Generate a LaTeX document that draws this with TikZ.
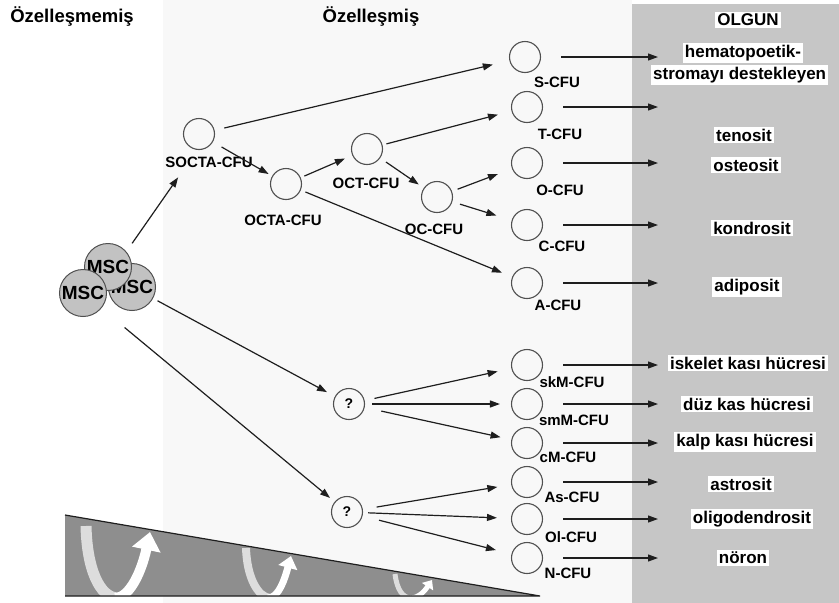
\documentclass[tikz,border=0pt]{standalone}
\usepackage{fontspec}
\setmainfont{Liberation Sans}
\usetikzlibrary{arrows.meta}
\definecolor{Olgun}{HTML}{C6C6C6}
\definecolor{Pale}{HTML}{F8F8F8}
\definecolor{Wedge}{HTML}{8E8E8E}
\definecolor{Ink}{HTML}{1E1E1E}
\definecolor{Rim}{HTML}{505050}
\definecolor{Cell}{HTML}{C2C2C2}

\tikzset{
  cfu/.style={circle,draw=Rim,line width=1.1pt,minimum size=31pt,inner sep=0pt},
  unk/.style={cfu,font=\fontsize{14}{16}\selectfont\bfseries},
  cfutxt/.style={inner sep=0pt,font=\fontsize{15}{17}\selectfont\bfseries},
  mature/.style={fill=white,inner sep=2pt,font=\fontsize{17}{19}\selectfont\bfseries},
  colhead/.style={inner sep=0pt,font=\fontsize{18.5}{21}\selectfont\bfseries},
  msc/.style={circle,draw=Rim,fill=Cell,line width=1pt,minimum size=47pt,inner sep=0pt,
    font=\fontsize{19}{21}\selectfont\bfseries},
  arr/.style={draw=Ink,line width=1.2pt,-{Triangle[length=10pt,width=7pt]},
    shorten <=10pt,shorten >=13pt},
  ripearr/.style={draw=Ink,line width=1.1pt,-{Triangle[length=10pt,width=7pt]}},
}

\begin{document}
\begin{tikzpicture}[x=1pt,y=-1pt]
  \useasboundingbox (0,0) rectangle (839,603);
  % backgrounds
  \fill[Pale] (163,0) rectangle (632,603);
  \fill[Olgun] (632,4) rectangle (839,603);

  % potency wedge
  \fill[Wedge] (65,515) -- (540,596) -- (65,596) -- cycle;
  \begin{scope}
    \clip (65,515) -- (540,596) -- (65,596) -- cycle;
    \draw[white,opacity=0.7,line width=11pt] (86,526) .. controls (87,570) and (100,597) .. (117,598);
    \draw[white,line width=10pt,-{Triangle[length=18pt,width=28pt]}] (115,598) .. controls (130,598) and (142,570) .. (150,532);
    \draw[white,opacity=0.7,line width=8pt] (246,548) .. controls (247,578) and (258,597) .. (270,598);
    \draw[white,line width=7pt,-{Triangle[length=12pt,width=19pt]}] (268,598) .. controls (279,598) and (285,578) .. (291,556);
    \draw[white,opacity=0.7,line width=5pt] (395,574) .. controls (397,590) and (403,598) .. (411,598);
    \draw[white,line width=5pt,-{Triangle[length=8pt,width=13pt]}] (410,598) .. controls (420,598) and (426,589) .. (432,580);
  \end{scope}
  \draw[Ink,line width=1.2pt] (65,515) -- (540,596) -- (65,596);

  % headings
  \node[colhead] (undiff) at (72,17) {Özelleşmemiş};
  \node[colhead] (diff) at (371,17) {Özelleşmiş};
  \node[mature] (olgun) at (748,20) {OLGUN};

  % stem cells
  \node[msc] (mscR) at (132,287) {MSC};
  \node[msc] (mscT) at (108,267) {MSC};
  \node[msc] (mscL) at (83,293) {MSC};

  % progenitors
  \node[cfu] (socta) at (199,134) {};
  \node[cfu] (octa) at (286,184) {};
  \node[cfu] (oct) at (367,149) {};
  \node[cfu] (oc) at (437,197) {};
  \node[cfu] (s) at (525,57) {};
  \node[cfu] (t) at (527,107) {};
  \node[cfu] (o) at (527,163) {};
  \node[cfu] (c) at (527,225) {};
  \node[cfu] (a) at (527,283) {};
  \node[unk] (q1) at (349,404) {?};
  \node[unk] (q2) at (347,512) {?};
  \node[cfu] (skm) at (527,365) {};
  \node[cfu] (smm) at (527,404) {};
  \node[cfu] (cm) at (527,443) {};
  \node[cfu] (as) at (527,482) {};
  \node[cfu] (ol) at (527,519) {};
  \node[cfu] (n) at (527,558) {};

  \node[cfutxt] (soctal) at (209,162) {SOCTA-CFU};
  \node[cfutxt] (octal) at (283,220) {OCTA-CFU};
  \node[cfutxt] (octl) at (366,183) {OCT-CFU};
  \node[cfutxt] (ocl) at (434,229) {OC-CFU};
  \node[cfutxt] (sl) at (557,82) {S-CFU};
  \node[cfutxt] (tl) at (560,134) {T-CFU};
  \node[cfutxt] (ol1) at (560,190) {O-CFU};
  \node[cfutxt] (cl) at (562,246) {C-CFU};
  \node[cfutxt] (al) at (558,305) {A-CFU};
  \node[cfutxt] (skml) at (572,382) {skM-CFU};
  \node[cfutxt] (smml) at (574,420) {smM-CFU};
  \node[cfutxt] (cml) at (568,457) {cM-CFU};
  \node[cfutxt] (asl) at (572,497) {As-CFU};
  \node[cfutxt] (oll) at (571,537) {Ol-CFU};
  \node[cfutxt] (nl) at (568,573) {N-CFU};

  % mature cells
  \node[mature] (hema) at (743,53) {hematopoetik-};
  \node[mature,anchor=west] (stroma) at (651,75) {stromayı destekleyen};
  \node[mature] (teno) at (744,135) {tenosit};
  \node[mature] (osteo) at (746,165) {osteosit};
  \node[mature] (kondro) at (752,228) {kondrosit};
  \node[mature] (adipo) at (747,287) {adiposit};
  \node[mature] (iskelet) at (748,363) {iskelet kası hücresi};
  \node[mature] (duz) at (747,404) {düz kas hücresi};
  \node[mature] (kalp) at (745,442) {kalp kası hücresi};
  \node[mature] (astro) at (741,484) {astrosit};
  \node[mature] (oligo) at (752,519) {oligodendrosit};
  \node[mature] (noron) at (743,558) {nöron};

  % lineage arrows
  \draw[arr,shorten >=12pt] (mscT.40) -- ([xshift=-24pt]soctal.south);
  \draw[arr,shorten <=5pt,shorten >=9pt] (mscR) -- (q1);
  \draw[arr,shorten <=30pt,shorten >=6pt] (mscL) -- (q2);
  \draw[arr,shorten >=17pt] (socta) -- (s);
  \draw[arr,shorten >=4pt] (socta) -- (octa);
  \draw[arr,shorten <=4pt,shorten >=8pt] (octa) -- (oct);
  \draw[arr,shorten <=5pt,shorten >=11pt] (octa) -- (a);
  \draw[arr,shorten <=4pt,shorten >=14pt] (oct) -- (t);
  \draw[arr,shorten <=7pt,shorten >=6pt] (oct) -- (oc);
  \draw[arr,shorten <=6pt,shorten >=15pt] (oc) -- (o);
  \draw[arr,shorten <=8pt,shorten >=16pt] (oc) -- (c);
  \draw[arr,shorten >=14pt] (q1) -- (skm);
  \draw[arr,shorten <=7pt,shorten >=11pt] (q1) -- (smm);
  \draw[arr,shorten <=17pt,shorten >=11pt] (q1) -- (cm);
  \draw[arr,shorten <=14pt,shorten >=14pt] (q2) -- (as);
  \draw[arr,shorten <=5pt,shorten >=14pt] (q2) -- (ol);
  \draw[arr,shorten <=17pt,shorten >=16pt] (q2) -- (n);

  % maturation arrows
  \coordinate (tip) at (658,0);
  \draw[ripearr] ([xshift=20pt]s.east) -- (s -| tip);
  \draw[ripearr] ([xshift=20pt]t.east) -- (t -| tip);
  \draw[ripearr] ([xshift=20pt]o.east) -- (o -| tip);
  \draw[ripearr] ([xshift=20pt]c.east) -- (c -| tip);
  \draw[ripearr] ([xshift=20pt]a.east) -- (a -| tip);
  \draw[ripearr] ([xshift=20pt]skm.east) -- (skm -| tip);
  \draw[ripearr] ([xshift=20pt]smm.east) -- (smm -| tip);
  \draw[ripearr] ([xshift=20pt]cm.east) -- (cm -| tip);
  \draw[ripearr] ([xshift=20pt]as.east) -- (as -| tip);
  \draw[ripearr] ([xshift=20pt]ol.east) -- (ol -| tip);
  \draw[ripearr] ([xshift=20pt]n.east) -- (n -| tip);
\end{tikzpicture}
\end{document}
